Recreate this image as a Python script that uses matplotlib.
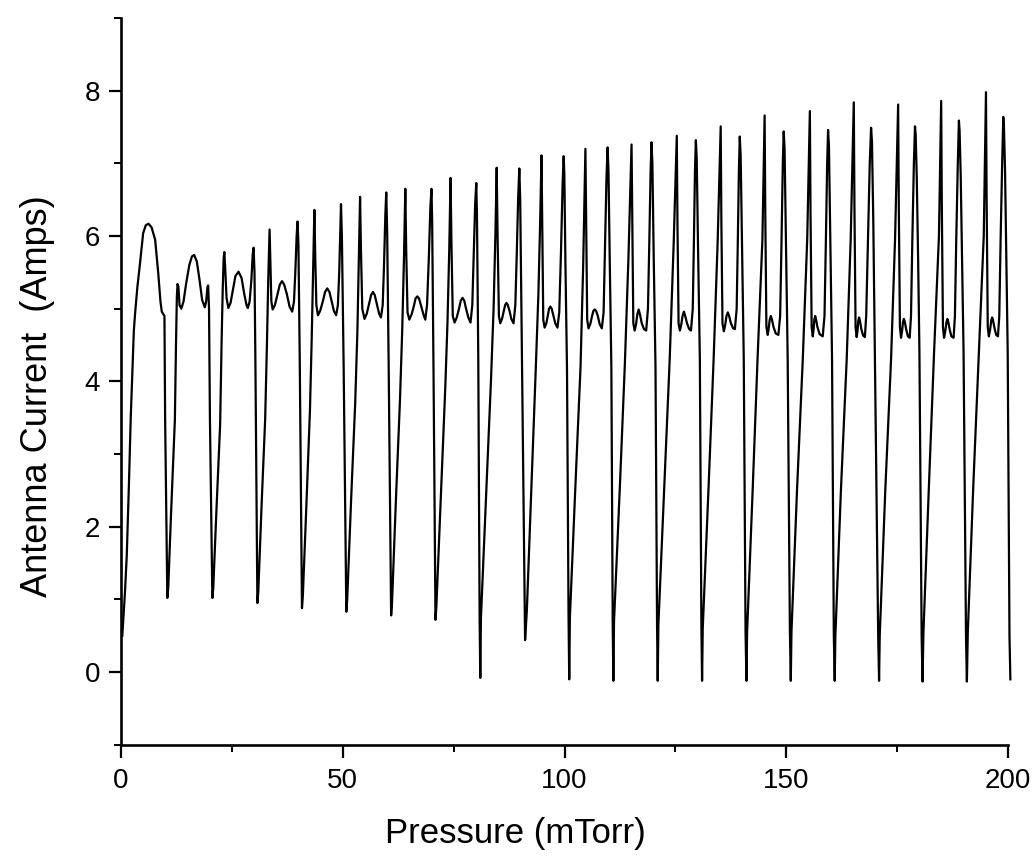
#!/usr/bin/env python3
"""
Antenna current vs fill pressure, traced off the scanned figure.
"""

import matplotlib
matplotlib.use('Agg')
import matplotlib.pyplot as plt
from matplotlib.ticker import MultipleLocator

# curve vertices, one line per oscillation (dip to dip)
pressure = [
    0.3, 0.9, 1.3, 1.8, 2.2, 2.5, 2.9, 3.2, 3.7, 4.3, 5.0, 5.6, 6.2, 6.9, 7.7, 8.4, 8.9, 9.2, 9.8, 9.95, 10.45,
    10.65, 11.3, 12.15, 12.4, 12.6, 12.75, 12.95, 13.2, 13.6, 14.1, 14.7, 15.4, 16.0, 16.5, 17.1, 17.7, 18.3, 18.9, 19.2, 19.5, 19.65, 19.85, 20.05, 20.6,
    20.8, 21.5, 22.35, 22.7, 22.95, 23.15, 23.3, 23.5, 23.8, 24.2, 24.7, 25.2, 25.8, 26.5, 27.2, 27.8, 28.3, 28.6, 29.0, 29.4, 29.7, 29.9, 30.1, 30.3, 30.75,
    30.95, 31.7, 32.5, 32.9, 33.2, 33.5, 33.7, 33.9, 34.2, 34.7, 35.3, 35.8, 36.3, 36.8, 37.4, 38.0, 38.6, 39.0, 39.3, 39.6, 39.8, 40.0, 40.3, 40.8,
    41.0, 41.8, 42.6, 43.0, 43.3, 43.6, 43.8, 44.05, 44.4, 44.9, 45.5, 46.0, 46.5, 47.0, 47.5, 48.0, 48.5, 48.9, 49.2, 49.45, 49.6, 49.8, 50.2, 50.8,
    51.0, 51.9, 52.8, 53.3, 53.6, 53.9, 54.1, 54.4, 54.9, 55.4, 55.9, 56.4, 56.8, 57.2, 57.7, 58.2, 58.6, 59.0, 59.3, 59.6, 59.8, 60.0, 60.35, 60.9,
    61.1, 62.0, 62.9, 63.4, 63.8, 64.1, 64.3, 64.6, 65.0, 65.5, 66.0, 66.4, 66.8, 67.2, 67.7, 68.2, 68.6, 69.0, 69.4, 69.75, 70.0, 70.15, 70.45, 70.9,
    71.1, 72.1, 73.1, 73.6, 74.0, 74.3, 74.5, 74.8, 75.2, 75.7, 76.2, 76.6, 77.0, 77.4, 77.8, 78.3, 78.8, 79.2, 79.5, 79.85, 80.1, 80.25, 80.55, 80.85, 81.0,
    81.15, 82.3, 83.4, 84.0, 84.4, 84.7, 84.9, 85.2, 85.5, 85.9, 86.3, 86.6, 86.9, 87.2, 87.6, 88.0, 88.5, 88.9, 89.2, 89.55, 89.8, 90.0, 90.4, 91.1,
    91.5, 92.5, 93.5, 94.1, 94.5, 94.8, 95.0, 95.2, 95.5, 95.9, 96.2, 96.5, 96.8, 97.1, 97.5, 97.9, 98.4, 98.8, 99.2, 99.55, 99.8, 99.95, 100.2, 100.55, 100.9, 101.05,
    101.2, 102.4, 103.6, 104.2, 104.7, 104.9, 105.1, 105.4, 105.8, 106.2, 106.5, 106.8, 107.1, 107.5, 107.9, 108.4, 108.8, 109.1, 109.45, 109.7, 109.9, 110.2, 110.55, 110.85, 111.0,
    111.15, 112.5, 113.6, 114.4, 115.1, 115.3, 115.5, 115.8, 116.1, 116.4, 116.7, 117.0, 117.4, 117.9, 118.4, 118.8, 119.1, 119.4, 119.6, 119.8, 120.1, 120.5, 120.85, 121.0,
    121.15, 122.5, 123.7, 124.6, 125.3, 125.45, 125.7, 126.0, 126.3, 126.6, 126.9, 127.2, 127.6, 128.1, 128.5, 128.9, 129.15, 129.4, 129.6, 129.8, 130.1, 130.5, 130.85, 131.0,
    131.15, 132.5, 133.6, 134.5, 135.2, 135.35, 135.6, 135.9, 136.2, 136.5, 136.8, 137.1, 137.5, 138.0, 138.4, 138.8, 139.05, 139.3, 139.5, 139.7, 140.0, 140.4, 140.8, 141.0,
    141.15, 142.4, 143.5, 144.6, 145.1, 145.25, 145.5, 145.8, 146.0, 146.25, 146.5, 146.75, 147.1, 147.6, 148.2, 148.6, 148.9, 149.2, 149.4, 149.6, 149.9, 150.3, 150.8, 151.0,
    151.15, 152.4, 153.7, 154.7, 155.3, 155.45, 155.7, 155.95, 156.15, 156.3, 156.5, 156.7, 157.0, 157.5, 158.2, 158.6, 158.9, 159.2, 159.4, 159.6, 159.9, 160.3, 160.7, 160.9,
    161.05, 162.3, 163.6, 164.5, 165.2, 165.35, 165.6, 165.85, 166.05, 166.2, 166.4, 166.6, 166.9, 167.3, 167.7, 168.0, 168.4, 168.8, 169.1, 169.3, 169.6, 169.95, 170.7, 170.9,
    171.05, 172.3, 173.6, 174.5, 175.2, 175.35, 175.6, 175.85, 176.1, 176.3, 176.5, 176.7, 177.0, 177.4, 177.8, 178.1, 178.4, 178.75, 179.0, 179.15, 179.4, 179.7, 180.0, 180.5, 180.7,
    180.9, 182.1, 183.3, 184.4, 184.9, 185.05, 185.3, 185.55, 185.85, 186.1, 186.3, 186.5, 186.8, 187.2, 187.7, 188.0, 188.3, 188.65, 188.9, 189.05, 189.3, 189.6, 189.95, 190.5, 190.7,
    190.9, 192.1, 193.4, 194.5, 195.0, 195.15, 195.4, 195.65, 195.95, 196.2, 196.4, 196.6, 196.9, 197.3, 197.7, 198.0, 198.3, 198.65, 198.9, 199.05, 199.3, 199.6, 199.9, 200.3, 200.5,
]

current = [
    0.5, 1.1, 1.6, 2.6, 3.5, 4.0, 4.7, 4.95, 5.3, 5.63, 6.04, 6.15, 6.17, 6.12, 5.95, 5.49, 5.1, 4.96, 4.9, 3.5, 1.02,
    1.15, 2.2, 3.47, 4.5, 5.17, 5.34, 5.3, 5.05, 5.0, 5.1, 5.35, 5.6, 5.72, 5.74, 5.65, 5.4, 5.12, 5.02, 5.1, 5.3, 5.32, 5.0, 3.5, 1.02,
    1.15, 2.2, 3.4, 4.6, 5.3, 5.7, 5.78, 5.55, 5.15, 5.01, 5.08, 5.25, 5.45, 5.51, 5.42, 5.2, 5.05, 5.01, 5.1, 5.4, 5.75, 5.84, 5.5, 4.3, 0.95,
    1.1, 2.3, 3.47, 4.5, 5.4, 6.09, 5.6, 5.1, 4.99, 5.05, 5.2, 5.33, 5.38, 5.33, 5.2, 5.03, 4.96, 5.1, 5.5, 6.0, 6.2, 5.9, 4.3, 0.88,
    1.05, 2.3, 3.6, 4.6, 5.5, 6.36, 5.7, 5.05, 4.91, 4.97, 5.1, 5.23, 5.28, 5.23, 5.1, 4.97, 4.91, 5.05, 5.5, 6.1, 6.44, 6.0, 4.2, 0.83,
    1.0, 2.4, 3.7, 4.7, 5.6, 6.54, 5.8, 5.0, 4.86, 4.93, 5.06, 5.19, 5.23, 5.19, 5.06, 4.93, 4.88, 5.05, 5.6, 6.3, 6.6, 6.1, 4.2, 0.78,
    0.95, 2.4, 3.75, 4.7, 5.7, 6.65, 5.8, 4.95, 4.85, 4.92, 5.03, 5.14, 5.17, 5.14, 5.03, 4.92, 4.85, 5.05, 5.7, 6.4, 6.65, 6.2, 4.2, 0.72,
    0.9, 2.4, 3.9, 4.8, 5.8, 6.8, 5.9, 4.9, 4.81, 4.88, 5.0, 5.11, 5.15, 5.11, 5.0, 4.88, 4.81, 5.05, 5.7, 6.45, 6.73, 6.3, 4.3, 0.75, -0.08,
    0.75, 2.4, 4.0, 5.0, 6.0, 6.94, 6.0, 4.9, 4.8, 4.86, 4.97, 5.05, 5.08, 5.05, 4.97, 4.86, 4.8, 5.05, 5.7, 6.55, 6.93, 6.5, 4.3, 0.44,
    0.85, 2.5, 4.16, 5.2, 6.2, 7.11, 6.0, 4.85, 4.74, 4.8, 4.9, 5.0, 5.03, 5.0, 4.9, 4.8, 4.74, 4.95, 5.8, 6.7, 7.1, 6.85, 5.6, 4.16, 0.75, -0.1,
    0.75, 2.5, 4.2, 5.6, 7.2, 6.0, 4.85, 4.73, 4.79, 4.9, 4.97, 4.99, 4.97, 4.9, 4.79, 4.73, 4.95, 5.8, 6.8, 7.22, 6.9, 5.6, 4.2, 0.7, -0.12,
    0.7, 2.6, 4.25, 5.7, 7.26, 6.0, 4.8, 4.7, 4.78, 4.92, 4.99, 4.92, 4.8, 4.72, 4.7, 5.0, 5.9, 6.9, 7.29, 7.0, 5.7, 4.2, 0.65, -0.12,
    0.65, 2.6, 4.3, 5.9, 7.38, 6.2, 4.8, 4.7, 4.78, 4.9, 4.96, 4.9, 4.8, 4.72, 4.7, 5.0, 5.9, 6.9, 7.32, 7.05, 5.8, 4.3, 0.6, -0.12,
    0.6, 2.6, 4.3, 5.9, 7.51, 6.2, 4.8, 4.69, 4.77, 4.9, 4.95, 4.9, 4.8, 4.73, 4.72, 5.0, 5.9, 6.9, 7.37, 7.1, 5.9, 4.3, 0.55, -0.12,
    0.55, 2.5, 4.3, 5.95, 7.66, 6.3, 4.75, 4.64, 4.72, 4.85, 4.9, 4.85, 4.75, 4.66, 4.64, 4.9, 5.9, 7.0, 7.44, 7.2, 6.0, 4.3, 0.55, -0.12,
    0.55, 2.5, 4.3, 5.95, 7.72, 6.3, 4.75, 4.62, 4.72, 4.85, 4.9, 4.85, 4.75, 4.65, 4.62, 4.9, 5.9, 7.0, 7.46, 7.25, 6.0, 4.3, 0.5, -0.12,
    0.5, 2.5, 4.3, 5.95, 7.84, 6.4, 4.75, 4.61, 4.7, 4.83, 4.88, 4.83, 4.72, 4.63, 4.61, 4.9, 5.95, 7.0, 7.49, 7.3, 6.2, 4.4, 0.5, -0.12,
    0.5, 2.5, 4.3, 5.95, 7.81, 6.4, 4.75, 4.6, 4.7, 4.82, 4.86, 4.82, 4.72, 4.62, 4.6, 4.9, 5.95, 7.0, 7.51, 7.4, 6.8, 5.7, 4.4, 0.48, -0.13,
    0.54, 2.5, 4.4, 6.0, 7.86, 6.4, 4.75, 4.6, 4.7, 4.82, 4.86, 4.82, 4.72, 4.62, 4.6, 4.9, 5.95, 7.0, 7.59, 7.45, 6.85, 5.7, 4.4, 0.48, -0.13,
    0.54, 2.5, 4.4, 6.0, 7.98, 6.5, 4.75, 4.62, 4.72, 4.84, 4.88, 4.84, 4.74, 4.64, 4.62, 4.9, 5.95, 7.0, 7.64, 7.5, 6.9, 5.7, 4.4, 0.5, -0.1,
]

x_major = [0, 50, 100, 150, 200]
y_major = [0, 2, 4, 6, 8]
x_label = 'Pressure (mTorr)'
y_label = 'Antenna Current  (Amps)'


def main():
    plt.rcParams['font.family'] = ['Liberation Sans', 'DejaVu Sans']

    fig = plt.figure(figsize=(10.34, 8.6), dpi=100)
    ax = fig.add_axes([0.117, 0.134, 0.858, 0.845])

    ax.plot(pressure, current, color='black', linewidth=1.6, clip_on=False)

    ax.set_xlim(0, 200)
    ax.set_ylim(-1, 9)
    ax.set_xticks(x_major)
    ax.set_yticks(y_major)
    ax.xaxis.set_minor_locator(MultipleLocator(25))
    ax.yaxis.set_minor_locator(MultipleLocator(1))

    for side in ('top', 'right'):
        ax.spines[side].set_visible(False)
    for side in ('left', 'bottom'):
        ax.spines[side].set_linewidth(1.9)

    ax.tick_params(which='major', direction='out', length=9, width=1.6, labelsize=20)
    ax.tick_params(axis='x', which='major', pad=8)
    ax.tick_params(axis='y', which='major', pad=6)
    ax.tick_params(which='minor', direction='out', length=5, width=1.4)

    ax.set_xlabel(x_label, fontsize=25)
    ax.set_ylabel(y_label, fontsize=26)
    ax.xaxis.set_label_coords(0.445, -0.1)
    ax.yaxis.set_label_coords(-0.074, 0.48)

    fig.savefig('out.png', dpi=100)
    plt.close(fig)


if __name__ == '__main__':
    main()
